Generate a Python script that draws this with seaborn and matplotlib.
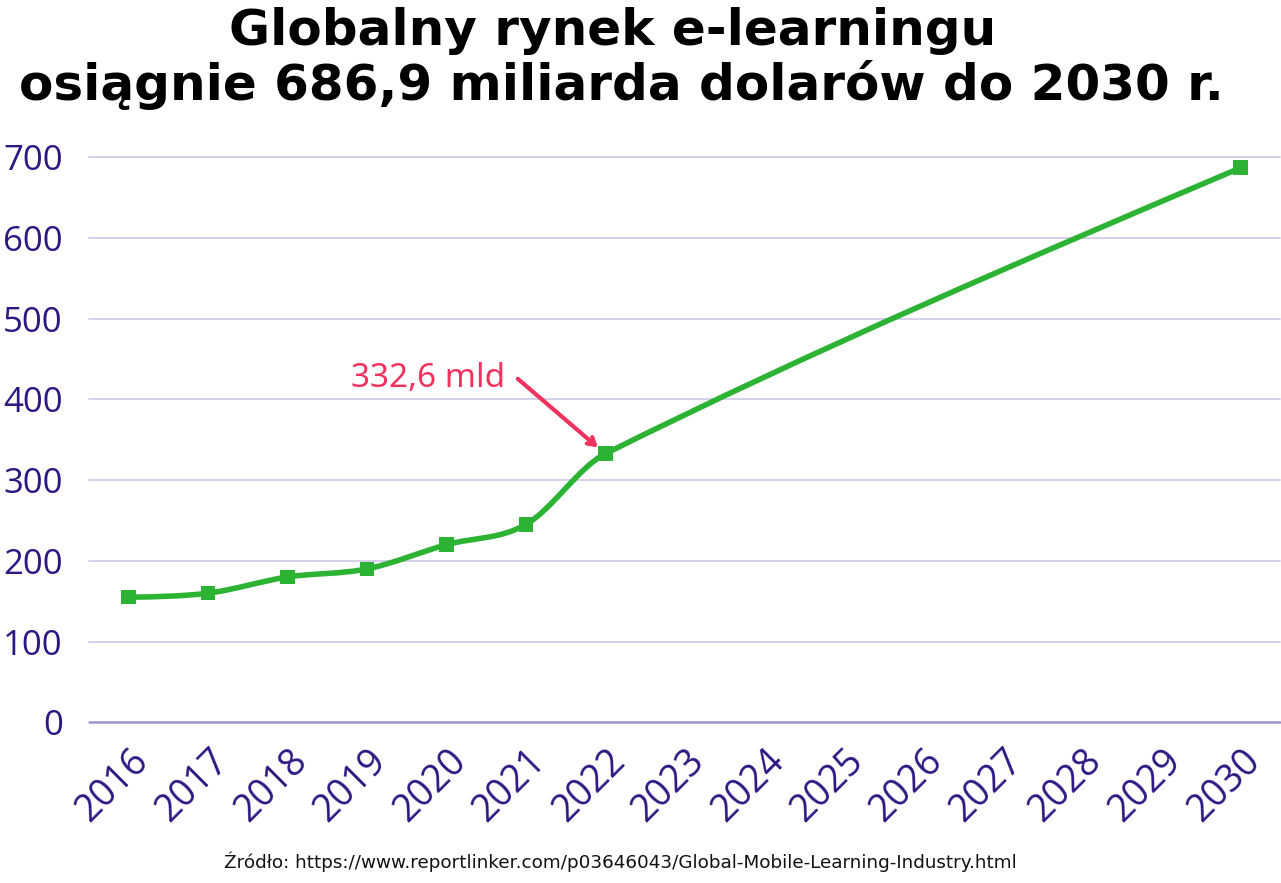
import numpy as np
import pandas as pd
import matplotlib
matplotlib.use("Agg")
import matplotlib.pyplot as plt
import matplotlib.transforms as mtrans
from matplotlib.path import Path
from matplotlib.patches import PathPatch
import seaborn as sns

# dane
lata = [2016, 2017, 2018, 2019, 2020, 2021, 2022, 2030]
wartosci = [155, 160, 180, 190, 220, 245, 332.6, 686.9]
etykiety_x = [str(r) for r in range(2016, 2031)]
etykiety_y = [0, 100, 200, 300, 400, 500, 600, 700]

tytul_1 = "Globalny rynek e-learningu"
tytul_2 = "osiągnie 686,9 miliarda dolarów do 2030 r."
adnotacja = "332,6 mld"
zrodlo = "Źródło: https://www.reportlinker.com/p03646043/Global-Mobile-Learning-Industry.html"

ZIELONY = "#2db334"
FIOLET = "#2e1782"
ROZ = "#f2325e"

sns.set_style("white")
plt.rcParams['font.family'] = ['Open Sans', 'DejaVu Sans']

df = pd.DataFrame({"rok": lata, "wartosc": wartosci})

fig = plt.figure(figsize=(12.81, 8.83), dpi=100)
ax = fig.add_axes([0.0695, 0.182, 0.93, 0.640])


# wygładzona linia (Catmull-Rom -> krzywe Beziera przez punkty danych)
def gladka_sciezka(x, y):
    x = np.asarray(x, float)
    y = np.asarray(y, float)
    s = np.diff(y) / np.diff(x)
    m = np.empty_like(y)
    m[1:-1] = (y[2:] - y[:-2]) / (x[2:] - x[:-2])
    m[0] = (3 * s[0] - m[1]) / 2
    m[-1] = (3 * s[-1] - m[-2]) / 2
    verts = [(x[0], y[0])]
    codes = [Path.MOVETO]
    for i in range(len(x) - 1):
        h = x[i + 1] - x[i]
        verts += [(x[i] + h / 3, y[i] + m[i] * h / 3),
                  (x[i + 1] - h / 3, y[i + 1] - m[i + 1] * h / 3),
                  (x[i + 1], y[i + 1])]
        codes += [Path.CURVE4] * 3
    return Path(verts, codes)


ax.add_patch(PathPatch(gladka_sciezka(df.rok, df.wartosc), fill=False,
                       edgecolor=ZIELONY, lw=4, capstyle="round", zorder=3))
sns.scatterplot(data=df, x="rok", y="wartosc", marker="s", s=110,
                color=ZIELONY, edgecolor="none", ax=ax, zorder=4, clip_on=False)

ax.set_xlim(2015.5, 2030.5)
ax.set_ylim(0, 700)
ax.set_xticks(range(2016, 2031))
ax.set_xticklabels(etykiety_x, rotation=45, ha="right", va="center",
                   rotation_mode="anchor", fontsize=27, color=FIOLET)
ax.set_yticks(etykiety_y)
ax.set_yticklabels([str(v) for v in etykiety_y], fontsize=25, color=FIOLET)
ax.tick_params(axis="x", length=0, pad=24)
ax.tick_params(axis="y", length=0, pad=19)
ax.set_xlabel("")
ax.set_ylabel("")

# lekkie przesunięcie etykiet osi X w prawo
przes = mtrans.ScaledTranslation(14 / 100, 0, fig.dpi_scale_trans)
for lab in ax.get_xticklabels():
    lab.set_transform(lab.get_transform() + przes)

for v in etykiety_y[1:]:
    ax.axhline(v, color="#cdc8e8", lw=1.2, zorder=1, clip_on=False)
ax.axhline(0, color="#9d92d2", lw=1.8, zorder=1, clip_on=False)
for sp in ax.spines.values():
    sp.set_visible(False)
ax.set_facecolor("white")

# adnotacja ze strzałką
ax.annotate(adnotacja, xy=(lata[6], wartosci[6]), xytext=(-72, 54),
            textcoords="offset points", ha="right", va="center",
            fontsize=24, color=ROZ, family=["Noto Sans", "DejaVu Sans"])
ax.annotate("", xy=(lata[6], wartosci[6]), xytext=(-63, 54),
            textcoords="offset points",
            arrowprops=dict(arrowstyle="->,head_length=0.5,head_width=0.3",
                            color=ROZ, lw=3, shrinkA=0, shrinkB=7))

fig.text(0.478, 1 - 45 / 883, tytul_1, ha="center", va="baseline",
         fontsize=36, fontweight="bold", family=["DejaVu Sans"], color="black")
fig.text(0.485, 1 - 100 / 883, tytul_2, ha="center", va="baseline",
         fontsize=36, fontweight="bold", family=["DejaVu Sans"], color="black")
fig.text(0.484, 0.012, zrodlo, ha="center", va="bottom", fontsize=13.2,
         family=["DejaVu Sans"], color="#111111")

fig.savefig("out.png", dpi=100, facecolor="white")
